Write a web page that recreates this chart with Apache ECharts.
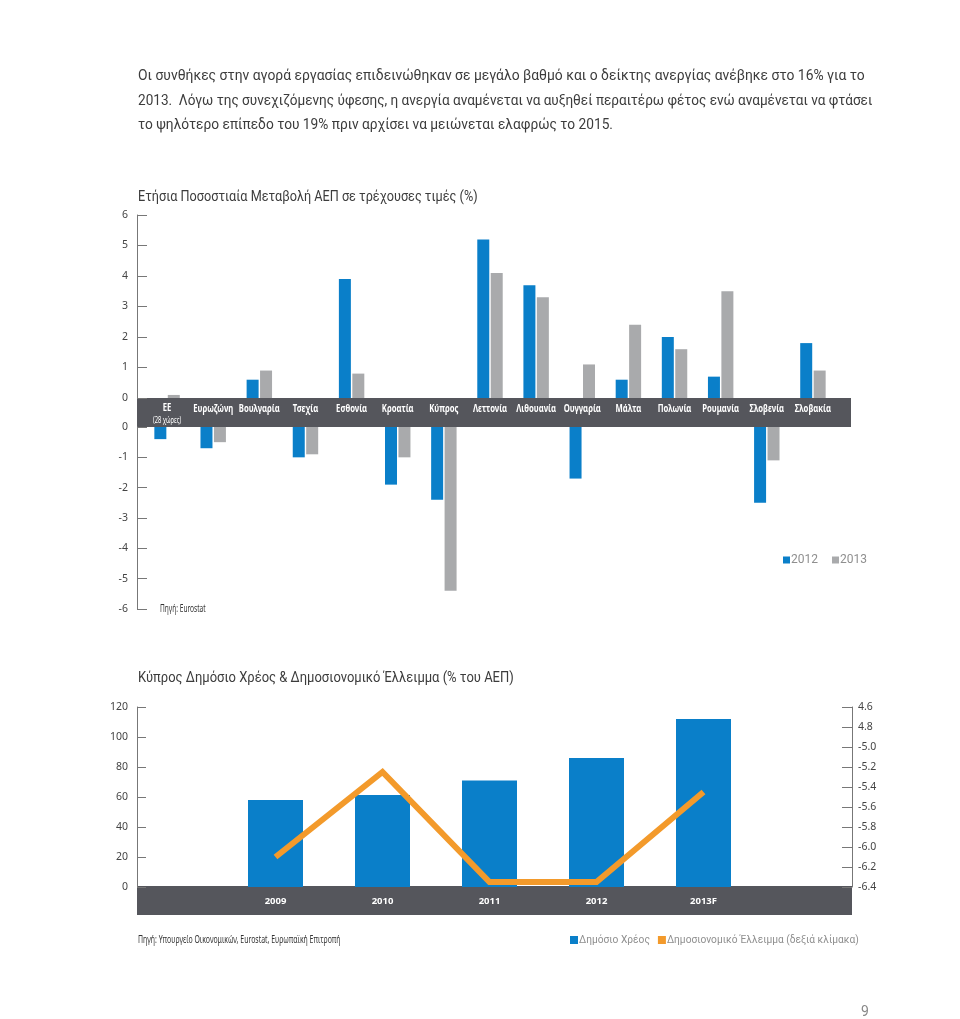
<!DOCTYPE html>
<html><head><meta charset="utf-8">
<script src="https://cdn.jsdelivr.net/npm/echarts@6/dist/echarts.min.js"></script>
<style>html,body{margin:0;padding:0;background:#fff}#c{width:960px;height:1019px}</style>
</head><body><div id="c"></div>
<script>
const paragraph = [
  'Οι συνθήκες στην αγορά εργασίας επιδεινώθηκαν σε μεγάλο βαθμό και ο δείκτης ανεργίας ανέβηκε στο 16% για το',
  '2013.  Λόγω της συνεχιζόμενης ύφεσης, η ανεργία αναμένεται να αυξηθεί περαιτέρω φέτος ενώ αναμένεται να φτάσει',
  'το ψηλότερο επίπεδο του 19% πριν αρχίσει να μειώνεται ελαφρώς το 2015.'
];
const title1 = 'Ετήσια Ποσοστιαία Μεταβολή ΑΕΠ σε τρέχουσες τιμές (%)';
const title2 = 'Κύπρος Δημόσιο Χρέος & Δημοσιονομικό Έλλειμμα (% του ΑΕΠ)';
const countries = ['ΕΕ','Ευρωζώνη','Βουλγαρία','Τσεχία','Εσθονία','Κροατία','Κύπρος','Λεττονία','Λιθουανία','Ουγγαρία','Μάλτα','Πολωνία','Ρουμανία','Σλοβενία','Σλοβακία'];
const euSub = '(28 χώρες)';
const gdp2012 = [-0.4,-0.7,0.6,-1.0,3.9,-1.9,-2.4,5.2,3.7,-1.7,0.6,2.0,0.7,-2.5,1.8];
const gdp2013 = [0.1,-0.5,0.9,-0.9,0.8,-1.0,-5.4,4.1,3.3,1.1,2.4,1.6,3.5,-1.1,0.9];
const years = ['2009','2010','2011','2012','2013F'];
const debt = [58,61.3,71,86,112];
const deficit = [-6.1,-5.25,-6.35,-6.35,-5.45];
const rightTicks = ['-6.4','-6.2','-6.0','-5.8','-5.6','-5.4','-5.2','-5.0','4.8','4.6'];
const source1 = 'Πηγή: Eurostat';
const source2 = 'Πηγή: Υπουργείο Οικονομικών, Eurostat, Ευρωπαϊκή Επιτροπή';
const legend1 = ['2012','2013'];
const legend2 = ['Δημόσιο Χρέος','Δημοσιονομικό Έλλειμμα (δεξιά κλίμακα)'];

const BLUE = '#0a7fc9', GRAY = '#a9aaac', ORANGE = '#f39a2b', BAND = '#55565c';
const MAIN = "Roboto,'Noto Sans',sans-serif";
const SANS = "'Noto Sans',Roboto,sans-serif";
const TXT = '#3c3c3c';

const pos = a => a.map(v => v >= 0 ? v : '-');
const neg = a => a.map(v => v < 0 ? v : '-');

function txt(id, text, x, y, font, fill, sx, align) {
  return {type: 'text', id: id, x: x, y: y, scaleX: sx, scaleY: 1, z: 10,
    style: {text: text, font: font, fill: fill, align: align || 'left', textAlign: align || 'left',
            verticalAlign: 'middle', textVerticalAlign: 'middle'}};
}

const chart = echarts.init(document.getElementById('c'), null, {renderer:'canvas'});
const axisLbl = {fontFamily: SANS, fontSize: 10.5, color: '#444'};
const baseGraphics = [
  {type: 'rect', id: 'band1', left: 137, top: 398, shape: {width: 714, height: 29}, style: {fill: BAND}, z: 0},
  {type: 'rect', id: 'band2', left: 137, top: 886, shape: {width: 715, height: 29}, style: {fill: BAND}, z: 0},
  txt('p0', paragraph[0], 138, 76, '15px ' + MAIN, TXT, 0.925),
  txt('p1', paragraph[1], 138, 101, '15px ' + MAIN, TXT, 0.905),
  txt('p2', paragraph[2], 138, 125, '15px ' + MAIN, TXT, 0.915),
  txt('t1', title1, 138, 197, '15px ' + MAIN, TXT, 0.845),
  txt('t2', title2, 138, 678, '15px ' + MAIN, TXT, 0.865),
  txt('s1', source1, 160, 609, '11px ' + SANS, '#333', 0.6),
  txt('s2', source2, 138, 940, '10.5px ' + SANS, '#333', 0.66),
  txt('pg', '9', 861, 1012, '14px ' + MAIN, '#888', 1)
];
const option = {
  animation: false,
  backgroundColor: '#fff',
  legend: [
    {data: legend1, left: 783, top: 554, padding: 0, icon: 'rect', itemWidth: 7, itemHeight: 7, itemGap: 14,
     textStyle: {fontFamily: MAIN, fontSize: 12, color: '#8f8f8f', padding: [0,0,0,-4]}},
    {data: legend2, left: 570, top: 935, padding: 0, icon: 'rect', itemWidth: 8, itemHeight: 8, itemGap: 8,
     textStyle: {fontFamily: MAIN, fontSize: 10.2, color: '#8f8f8f', padding: [0,0,0,-4]}}
  ],
  grid: [
    {left: 144, right: 124, top: 215, height: 183},
    {left: 144, right: 124, top: 427, height: 182},
    {left: 222, right: 203, top: 707, height: 180}
  ],
  xAxis: [
    {type: 'category', gridIndex: 0, data: countries, position: 'bottom',
     axisLine: {show: false}, axisTick: {show: false}, axisLabel: {show: false}},
    {type: 'category', gridIndex: 1, data: countries, show: false},
    {type: 'category', gridIndex: 2, data: years,
     axisLine: {show: false}, axisTick: {show: false},
     axisLabel: {margin: 9, color: '#fff', fontFamily: SANS, fontWeight: 'bold', fontSize: 9.5}}
  ],
  yAxis: [
    {type: 'value', gridIndex: 0, min: 0, max: 6, interval: 1, offset: 7,
     axisLine: {show: true, lineStyle: {color: '#777'}}, axisTick: {show: true, inside: true, length: 10, lineStyle: {color: '#777'}},
     splitLine: {show: false}, axisLabel: Object.assign({margin: 9}, axisLbl)},
    {type: 'value', gridIndex: 1, min: -6, max: 0, interval: 1, offset: 7,
     axisLine: {show: true, lineStyle: {color: '#777'}}, axisTick: {show: true, inside: true, length: 10, lineStyle: {color: '#777'}},
     splitLine: {show: false}, axisLabel: Object.assign({margin: 9}, axisLbl)},
    {type: 'value', gridIndex: 2, min: 0, max: 120, interval: 20, offset: 85, position: 'left',
     axisLine: {show: true, lineStyle: {color: '#777'}}, axisTick: {show: true, inside: true, length: 9, lineStyle: {color: '#777'}},
     splitLine: {show: false}, axisLabel: Object.assign({margin: 9}, axisLbl)},
    {type: 'value', gridIndex: 2, min: -6.4, max: -4.6, interval: 0.2, offset: 95, position: 'right',
     axisLine: {show: true, lineStyle: {color: '#777'}}, axisTick: {show: true, inside: true, length: 10, lineStyle: {color: '#777'}},
     splitLine: {show: false},
     axisLabel: Object.assign({margin: 6, formatter: v => rightTicks[Math.round((v + 6.4) / 0.2)]}, axisLbl)}
  ],
  series: [
    {name: legend1[0], type: 'bar', xAxisIndex: 0, yAxisIndex: 0, data: pos(gdp2012), itemStyle: {color: BLUE}, barWidth: 12, barGap: '12%'},
    {name: legend1[1], type: 'bar', xAxisIndex: 0, yAxisIndex: 0, data: pos(gdp2013), itemStyle: {color: GRAY}, barWidth: 12, barGap: '12%'},
    {name: legend1[0], type: 'bar', xAxisIndex: 1, yAxisIndex: 1, data: neg(gdp2012), itemStyle: {color: BLUE}, barWidth: 12, barGap: '12%'},
    {name: legend1[1], type: 'bar', xAxisIndex: 1, yAxisIndex: 1, data: neg(gdp2013), itemStyle: {color: GRAY}, barWidth: 12, barGap: '12%'},
    {name: legend2[0], type: 'bar', xAxisIndex: 2, yAxisIndex: 2, data: debt, itemStyle: {color: BLUE}, barWidth: 55},
    {name: legend2[1], type: 'line', xAxisIndex: 2, yAxisIndex: 3, data: deficit, showSymbol: false, symbol: 'none',
     lineStyle: {color: ORANGE, width: 6, cap: 'butt', join: 'miter'}, itemStyle: {color: ORANGE}, z: 5}
  ],
  graphic: baseGraphics
};
chart.setOption(option);

// category labels in the band, centred on each category of the top axis
const catLabels = [];
countries.forEach((c, i) => {
  const x = chart.convertToPixel({xAxisIndex: 0}, i);
  const yTop = chart.convertToPixel({yAxisIndex: 0}, 0);
  catLabels.push(txt('cat' + i, c, x, yTop + (i === 0 ? 10 : 11), 'bold 11px ' + SANS, '#fff', 0.7, 'center'));
  if (i === 0) catLabels.push(txt('catsub', euSub, x, yTop + 23, '8px ' + SANS, '#fff', 0.72, 'center'));
});
chart.setOption({graphic: baseGraphics.concat(catLabels)});
</script></body></html>
